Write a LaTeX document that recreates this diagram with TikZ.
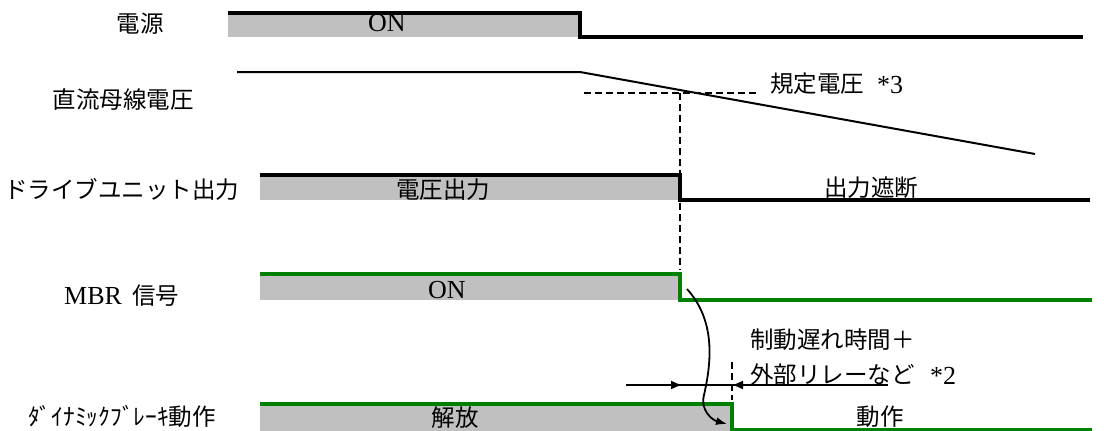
\documentclass[tikz,border=0pt]{standalone}
\usepackage{fontspec}
\setmainfont{Liberation Serif}
\newfontfamily\jp{Noto Sans CJK JP}
\usetikzlibrary{arrows.meta}
\definecolor{sgray}{RGB}{192,192,192}
\definecolor{sgreen}{RGB}{0,128,0}
\tikzset{
  lbl/.style={inner sep=0pt,font=\fontsize{23.5}{26}\selectfont\jp},
  txt/.style={inner sep=0pt,font=\fontsize{26}{28}\selectfont},
  sigblack/.style={line width=3.5pt,black,line join=miter},
  siggreen/.style={line width=3.5pt,sgreen,line join=miter},
  boxfill/.style={fill=sgray,draw=none},
  dashv/.style={line width=1.5pt,dash pattern=on 7pt off 4pt},
  tipr/.style={-{Latex[length=11pt,width=9pt]}}
}
\begin{document}
\begin{tikzpicture}[x=1pt,y=-1pt]
\useasboundingbox (0,0) rectangle (1104,431);
% Row 1
\fill[boxfill] (228,13) rectangle (580,37);
\draw[sigblack] (228,13) -- (580,13) -- (580,37) -- (1083,37);
\node[lbl] (l1) at (140,24) {電源};
\node[txt] (t1) at (387,23) {ON};
% Row 2
\coordinate (b0) at (237,72);
\coordinate (b1) at (580,72);
\coordinate (b2) at (1035,154);
\draw[line width=2pt] (b0) -- (b1) -- (b2);
\coordinate (d0) at (584,93);
\coordinate (d1) at (758,93);
\draw[dashv] (d0) -- (d1);
\node[lbl,anchor=west] (t2) at (770,84) {規定電圧};
\node[txt,anchor=west] (t2b) at (877,85) {*3};
\node[lbl] (l2) at (123,100) {直流母線電圧};
% vertical dashed
\coordinate (v0) at (680,93);
\coordinate (v1) at (680,270);
\draw[dashv] (v0) -- (v1);
% Row 3
\fill[boxfill] (260,175) rectangle (680,200);
\draw[sigblack] (260,175) -- (680,175) -- (680,200) -- (1090,200);
\node[lbl] (l3) at (122,189) {ドライブユニット出力};
\node[lbl] (t3a) at (443,190) {電圧出力};
\node[lbl] (t3b) at (871,188) {出力遮断};
% Row 4
\fill[boxfill] (260,274) rectangle (680,300);
\draw[siggreen] (260,274) -- (680,274) -- (680,300) -- (1092,300);
\node[txt,anchor=west] (l4a) at (64,296) {MBR};
\node[lbl,anchor=west] (l4b) at (132,296) {信号};
\node[txt] (t4) at (447,290) {ON};
% Row 5
\fill[boxfill] (260,404) rectangle (732,431);
\draw[siggreen] (260,404) -- (732,404) -- (732,430) -- (1092,430);
\node[lbl] (l5) at (122,416) {ﾀﾞｲﾅﾐｯｸﾌﾞﾚｰｷ動作};
\node[lbl] (t5a) at (455,418) {解放};
\node[lbl] (t5b) at (880,417) {動作};
% curved arrow
\coordinate (c0) at (687,289);
\coordinate (c1) at (727,424);
\draw[line width=1.8pt,-{Latex[length=11pt,width=8pt]}] (c0) .. controls (715,320) and (712,360) .. (704,395) .. controls (700,410) and (712,420) .. (c1);
% delay dimension
\coordinate (v2) at (732,362);
\coordinate (v3) at (732,400);
\draw[dashv] (v2) -- (v3);
\coordinate (a0) at (626,385);
\coordinate (a1) at (682,385);
\coordinate (a2) at (888,385);
\coordinate (a3) at (732,385);
\draw[line width=1.5pt] (a0) -- (a2);
\draw[line width=1.5pt,tipr] (a0) -- (a1);
\draw[line width=1.5pt,tipr] (a2) -- (a3);
\node[lbl,anchor=west] (n1) at (750,340) {制動遅れ時間＋};
\node[lbl,anchor=west] (n2) at (750,375) {外部リレーなど};
\node[txt,anchor=west] (n2b) at (930,376) {*2};
\end{tikzpicture}
\end{document}
